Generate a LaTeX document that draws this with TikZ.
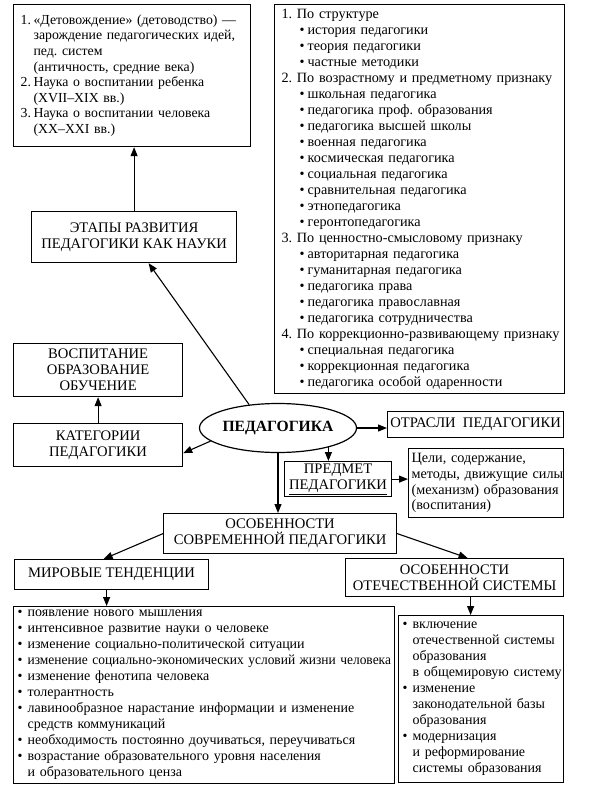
\documentclass[tikz,border=0pt]{standalone}
\usepackage{fontspec}
\setmainfont{Liberation Serif}
\usetikzlibrary{arrows.meta,shapes.geometric}
\frenchspacing
\newcommand\fs{\fontsize{14}{16}\selectfont}
\newcommand\hfs{\fontsize{14.6}{16}\selectfont}
\newcommand\bul{\makebox[10pt][l]{•}}
\newcommand\itm[1]{\mbox{\bul #1}}
\newcommand\cnt[1]{\mbox{\hspace*{10pt}#1}}
\newcommand\num[2]{\mbox{\makebox[13pt][l]{#1}#2}}
\newcommand\ncnt[1]{\mbox{\hspace*{13pt}#1}}
\newcommand\sub[1]{\mbox{\hspace*{18pt}\makebox[8pt][l]{•}#1}}
\tikzset{
  box/.style={draw, line width=1.2pt, inner sep=0pt, anchor=north west, align=center, font=\hfs},
  listbox/.style={box, align=left, inner xsep=5pt, font=\fs},
  arr/.style={line width=1.1pt, -{Triangle[length=9pt,width=7pt]}},
}
\begin{document}
\begin{tikzpicture}[x=1pt,y=-1pt]
\useasboundingbox[fill=white] (0,0) rectangle (592,789);

% top-left list
\node[listbox, inner xsep=7pt, text width=223pt, minimum height=142pt,
      font=\fontsize{13.8}{15.6}\selectfont] (stages) at (13,4) {%
\num{1.}{«Детовождение» (детоводство) —}\\
\ncnt{зарождение педагогических идей,}\\
\ncnt{пед. систем}\\
\ncnt{(античность, средние века)}\\
\num{2.}{Наука о воспитании ребенка}\\
\ncnt{(XVII–XIX вв.)}\\
\num{3.}{Наука о воспитании человека}\\
\ncnt{(XX–XXI вв.)}};

% top-right list
\node[listbox, inner xsep=7pt, text width=276pt, minimum height=389pt,
      font=\fontsize{14.2}{16}\selectfont] (branches) at (274,4) {%
\mbox{1. По структуре}\\
\sub{история педагогики}\\
\sub{теория педагогики}\\
\sub{частные методики}\\
\mbox{2. По возрастному и предметному признаку}\\
\sub{школьная педагогика}\\
\sub{педагогика проф. образования}\\
\sub{педагогика высшей школы}\\
\sub{военная педагогика}\\
\sub{космическая педагогика}\\
\sub{социальная педагогика}\\
\sub{сравнительная педагогика}\\
\sub{этнопедагогика}\\
\sub{геронтопедагогика}\\
\mbox{3. По ценностно-смысловому признаку}\\
\sub{авторитарная педагогика}\\
\sub{гуманитарная педагогика}\\
\sub{педагогика права}\\
\sub{педагогика православная}\\
\sub{педагогика сотрудничества}\\
\mbox{4. По коррекционно-развивающему признаку}\\
\sub{специальная педагогика}\\
\sub{коррекционная педагогика}\\
\sub{педагогика особой одаренности}};

\node[box, minimum width=205pt, minimum height=51pt] (etapy) at (31,211)
  {ЭТАПЫ РАЗВИТИЯ\\ПЕДАГОГИКИ КАК НАУКИ};
\node[box, minimum width=169pt, minimum height=53pt] (vosp) at (13,343)
  {ВОСПИТАНИЕ\\ОБРАЗОВАНИЕ\\ОБУЧЕНИЕ};
\node[box, minimum width=169pt, minimum height=43pt] (kateg) at (13,423)
  {КАТЕГОРИИ\\ПЕДАГОГИКИ};
\node[draw, line width=1.2pt, ellipse, minimum width=157pt, minimum height=49pt, inner sep=0pt,
      font=\bfseries\fontsize{15.6}{16}\selectfont] (ped) at (278,428) {ПЕДАГОГИКА};
\node[box, minimum width=176pt, minimum height=26pt] (otrasli) at (387,411)
  {ОТРАСЛИ\ \ ПЕДАГОГИКИ};
\node[box, minimum width=107pt, minimum height=35pt] (predmet) at (284,461)
  {ПРЕДМЕТ\\\underline{ПЕДАГОГИКИ}};
\node[listbox, inner xsep=3pt, text width=149pt, minimum height=69pt,
      font=\fontsize{14.2}{15.7}\selectfont] (celi) at (408,448) {%
\mbox{Цели, содержание,}\\
\mbox{методы, движущие силы}\\
\mbox{(механизм) образования}\\
\mbox{(воспитания)}};
\node[box, minimum width=233pt, minimum height=40pt] (osob) at (163,513)
  {ОСОБЕННОСТИ\\СОВРЕМЕННОЙ ПЕДАГОГИКИ};
\node[box, minimum width=194pt, minimum height=30pt] (mirovye) at (14,559)
  {МИРОВЫЕ ТЕНДЕНЦИИ};
\node[box, minimum width=218pt, minimum height=38pt] (otech) at (345,558)
  {ОСОБЕННОСТИ\\ОТЕЧЕСТВЕННОЙ СИСТЕМЫ};

% bottom-left list
\node[listbox, inner xsep=4pt, text width=373pt, minimum height=177pt] (world) at (13,606) {%
\itm{появление нового мышления}\\
\itm{интенсивное развитие науки о человеке}\\
\itm{изменение социально-политической ситуации}\\
\itm{\scalebox{0.96}[1]{изменение социально-экономических условий жизни человека}}\\
\itm{изменение фенотипа человека}\\
\itm{толерантность}\\
\itm{лавинообразное нарастание информации и изменение}\\
\cnt{средств коммуникаций}\\
\itm{необходимость постоянно доучиваться, переучиваться}\\
\itm{возрастание образовательного уровня населения}\\
\cnt{и образовательного ценза}};

% bottom-right list
\node[listbox, inner xsep=4pt, text width=157pt, minimum height=167pt] (dom) at (398,615) {%
\itm{включение}\\
\cnt{отечественной системы}\\
\cnt{образования}\\
\cnt{в общемировую систему}\\
\itm{изменение}\\
\cnt{законодательной базы}\\
\cnt{образования}\\
\itm{модернизация}\\
\cnt{и реформирование}\\
\cnt{системы образования}};

% connectors
\draw[arr] (etapy.north) -- (etapy.north |- stages.south);
\draw[arr] (ped.141) -- ([xshift=14.5pt]etapy.south);
\draw[arr] (kateg.north) -- (vosp.south);
\draw[arr] (ped.191) -- ([yshift=-8pt]kateg.east);
\draw[arr] (ped.east) -- (ped.east -| otrasli.west);
\draw[arr] (ped.-21) -- (ped.-21 |- predmet.north);
\draw[arr] (ped.south) -- (ped.south |- osob.north);
\draw[arr] (predmet.east) -- (predmet.east -| celi.west);
\draw[arr] (osob.west) -- ([xshift=-8pt]mirovye.north);
\draw[arr] (osob.east) -- ([xshift=13pt]otech.north);
\draw[arr] ([xshift=-5pt]mirovye.south) -- ([xshift=-5pt]mirovye.south |- world.north);
\draw[arr] ([xshift=16pt]otech.south) -- ([xshift=16pt]otech.south |- dom.north);
\end{tikzpicture}
\end{document}
